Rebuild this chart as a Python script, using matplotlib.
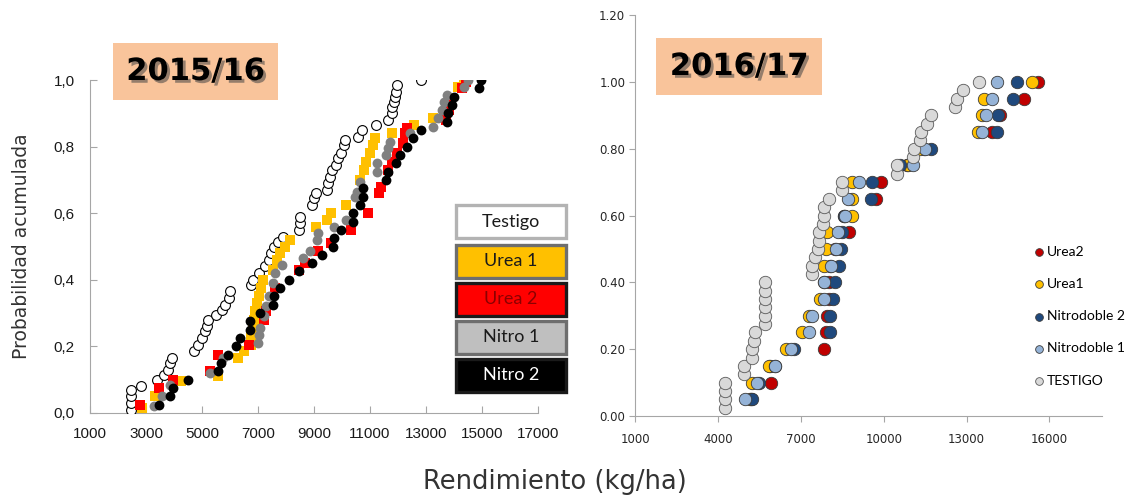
import matplotlib.pyplot as plt
from matplotlib import patheffects
from matplotlib.patches import Rectangle

# ---- 2015/16: cumulative probability vs yield ----
testigo_15_x = [2480, 2480, 2480, 2480, 2810, 3380, 3650, 3780, 3870, 3940,
                4730, 4860, 5010, 5100, 5170, 5230, 5500, 5700, 5830, 5960,
                5990, 6750, 6820, 7020, 7260, 7410, 7480, 7570, 7710, 7880,
                8450, 8500, 8500, 8940, 9000, 9070, 9470, 9500, 9570, 9660,
                9800, 9860, 9950, 10060, 10120, 10560, 10720, 11220, 11650, 11780,
                11800, 11850, 11910, 11940, 11980, 12810]
testigo_15_y = [0.01, 0.03, 0.05, 0.07, 0.08, 0.10, 0.115, 0.13, 0.15, 0.165,
                0.185, 0.205, 0.225, 0.245, 0.262, 0.28, 0.295, 0.31, 0.325, 0.345,
                0.365, 0.385, 0.40, 0.42, 0.44, 0.46, 0.48, 0.50, 0.515, 0.53,
                0.55, 0.57, 0.59, 0.625, 0.645, 0.66, 0.67, 0.69, 0.71, 0.73,
                0.745, 0.765, 0.78, 0.805, 0.82, 0.83, 0.85, 0.865, 0.88, 0.90,
                0.92, 0.935, 0.95, 0.965, 0.985, 1.0]

urea1_15_x = [2850, 3310, 3450, 4240, 5560, 6290, 6490, 6750, 6750, 6820,
              6860, 6890, 6950, 7020, 7090, 7180, 7530, 7680, 7800, 7960,
              8150, 9070, 9470, 9600, 10130, 10650, 10790, 10850, 10990, 11120,
              11190, 11780, 12570, 13240, 14160, 14360]
urea1_15_y = [0.015, 0.05, 0.07, 0.095, 0.11, 0.165, 0.185, 0.205, 0.23, 0.255,
              0.28, 0.305, 0.33, 0.35, 0.375, 0.40, 0.43, 0.46, 0.48, 0.50,
              0.52, 0.56, 0.58, 0.60, 0.625, 0.70, 0.73, 0.755, 0.78, 0.805,
              0.825, 0.84, 0.865, 0.885, 0.98, 1.0]

urea2_15_x = [2790, 3450, 3980, 5270, 5560, 6690, 7220, 7280, 7610, 8470,
              8670, 9140, 9600, 10330, 10920, 11320, 11400, 11650, 11780, 11980,
              12180, 12240, 12310, 13700, 13830, 13900, 14300, 14430]
urea2_15_y = [0.025, 0.075, 0.10, 0.125, 0.175, 0.205, 0.28, 0.305, 0.375, 0.43,
              0.45, 0.485, 0.51, 0.55, 0.60, 0.66, 0.68, 0.73, 0.755, 0.78,
              0.81, 0.84, 0.855, 0.88, 0.91, 0.935, 0.975, 0.995]

nitro1_15_x = [3290, 3580, 3840, 5270, 5760, 6990, 7020, 7080, 7220, 7280,
               7410, 7520, 7610, 7840, 8600, 8870, 9110, 9140, 9730, 10130,
               10460, 10520, 10660, 11250, 11250, 11580, 11650, 11720, 12440, 13240,
               13430, 13570, 13630, 13760, 14360, 14490]
nitro1_15_y = [0.02, 0.05, 0.085, 0.12, 0.165, 0.21, 0.235, 0.255, 0.29, 0.32,
               0.35, 0.39, 0.42, 0.445, 0.465, 0.485, 0.52, 0.54, 0.56, 0.58,
               0.65, 0.665, 0.695, 0.725, 0.75, 0.775, 0.795, 0.815, 0.84, 0.86,
               0.885, 0.91, 0.935, 0.955, 0.98, 1.0]

nitro2_15_x = [3470, 3870, 3980, 4500, 5560, 5670, 5930, 6220, 6360, 6730,
               6730, 7080, 7550, 7570, 7790, 8120, 8470, 8940, 9290, 9680,
               9700, 9950, 10380, 10380, 10660, 10750, 10750, 11580, 11650, 11940,
               12070, 12310, 12550, 12810, 13740, 13790, 13920, 14000, 14890, 14980]
nitro2_15_y = [0.025, 0.05, 0.075, 0.10, 0.125, 0.15, 0.175, 0.20, 0.225, 0.25,
               0.275, 0.30, 0.325, 0.35, 0.375, 0.40, 0.425, 0.45, 0.475, 0.50,
               0.525, 0.55, 0.575, 0.60, 0.625, 0.65, 0.675, 0.70, 0.725, 0.75,
               0.775, 0.80, 0.825, 0.85, 0.875, 0.90, 0.925, 0.95, 0.975, 1.0]

# ---- 2016/17 ----
prob_20 = [0.05, 0.10, 0.15, 0.20, 0.25, 0.30, 0.35, 0.40, 0.45, 0.50,
           0.55, 0.60, 0.65, 0.70, 0.75, 0.80, 0.85, 0.90, 0.95, 1.00]
urea2_16 = [5200, 5918, 5900, 7824, 7910, 7947, 8008, 8033, 8070, 8254,
            8746, 8561, 9705, 9890, 10836, 11451, 13910, 14217, 15078, 15570]
urea1_16 = [5150, 5242, 5832, 6471, 7049, 7295, 7701, 7824, 7848, 7910,
            7947, 8869, 8869, 8869, 10897, 11328, 13418, 13541, 13639, 15361]
nitrod2_16 = [5242, 5488, 6066, 6754, 8070, 8070, 8156, 8254, 8377, 8439,
              8475, 8561, 9545, 9582, 10590, 11697, 14094, 14131, 14672, 14832]
nitrod1_16 = [4971, 5402, 6066, 6631, 7295, 7393, 7824, 7824, 8107, 8279,
              8340, 8598, 8721, 9115, 11057, 11512, 13541, 13689, 13934, 14094]
testigo_16_x = [4258, 4258, 4258, 4258, 4934, 4934, 5217, 5217, 5303, 5340,
                5710, 5710, 5710, 5710, 5710, 5710, 7418, 7418, 7516, 7640,
                7676, 7676, 7787, 7823, 7823, 8033, 8475, 8500, 10467, 10492,
                11057, 11082, 11303, 11352, 11549, 11697, 12582, 12656, 12865, 13443]
testigo_16_y = [0.025, 0.05, 0.075, 0.10, 0.125, 0.15, 0.175, 0.20, 0.225, 0.25,
                0.275, 0.30, 0.325, 0.35, 0.375, 0.40, 0.425, 0.45, 0.475, 0.50,
                0.525, 0.55, 0.575, 0.60, 0.625, 0.65, 0.675, 0.70, 0.725, 0.75,
                0.775, 0.80, 0.825, 0.85, 0.875, 0.90, 0.925, 0.95, 0.975, 1.00]

x_ticks_15 = [1000, 3000, 5000, 7000, 9000, 11000, 13000, 15000, 17000]
y_ticks_15 = [0.0, 0.2, 0.4, 0.6, 0.8, 1.0]
y_labels_15 = ['0,0', '0,2', '0,4', '0,6', '0,8', '1,0']
x_ticks_16 = [1000, 4000, 7000, 10000, 13000, 16000]
y_ticks_16 = [0.0, 0.2, 0.4, 0.6, 0.8, 1.0, 1.2]

legend_15 = ['Testigo', 'Urea 1', 'Urea 2', 'Nitro 1', 'Nitro 2']

W, H = 1128, 497
fig = plt.figure(figsize=(W / 100, H / 100), dpi=100)


def px_rect(x0, y0, x1, y1):
    # pixel box measured from top-left -> figure fraction [l, b, w, h]
    return [x0 / W, 1 - y1 / H, (x1 - x0) / W, (y1 - y0) / H]


axis_grey = '#a6a6a6'

# left panel
ax1 = fig.add_axes(px_rect(90, 80, 538, 413))
sq = 50
ax1.scatter(testigo_15_x, testigo_15_y, s=sq, marker='o', facecolor='white',
            edgecolor='black', linewidth=0.8, zorder=3)
ax1.scatter(urea1_15_x, urea1_15_y, s=sq, marker='s', color='#ffc000', linewidth=0, zorder=3)
ax1.scatter(urea2_15_x, urea2_15_y, s=sq, marker='s', color='#ff0000', linewidth=0, zorder=3)
ax1.scatter(nitro1_15_x, nitro1_15_y, s=sq, marker='o', color='#808080', linewidth=0, zorder=3)
ax1.scatter(nitro2_15_x, nitro2_15_y, s=sq, marker='o', color='black', linewidth=0, zorder=3)
ax1.set_xlim(1000, 17000)
ax1.set_ylim(0, 1.0)
ax1.set_xticks(x_ticks_15)
ax1.set_yticks(y_ticks_15)
ax1.set_yticklabels(y_labels_15)
for sp in ['top', 'right']:
    ax1.spines[sp].set_visible(False)
for sp in ['left', 'bottom']:
    ax1.spines[sp].set_color(axis_grey)
ax1.tick_params(direction='in', length=5, color=axis_grey, labelsize=11,
                labelcolor='#1a1a1a')
ax1.tick_params(axis='x', pad=10)
ax1.tick_params(axis='y', pad=11)
for lab in ax1.get_xticklabels() + ax1.get_yticklabels():
    lab.set_fontfamily('Liberation Sans')
ax1.set_ylabel('Probabilidad acumulada', fontsize=13.5, color='#333333')
ax1.yaxis.set_label_coords(-0.132, 0.5)

# right panel
ax2 = fig.add_axes(px_rect(635, 15, 1102, 416))
sr = 80
ax2.scatter(urea2_16, prob_20, s=sr, color='#c00000', edgecolor='#3a3a3a', linewidth=0.6, zorder=3,
            label='Urea2')
ax2.scatter(urea1_16, prob_20, s=sr, color='#ffc000', edgecolor='#3a3a3a', linewidth=0.6, zorder=3,
            label='Urea1')
ax2.scatter(nitrod2_16, prob_20, s=sr, color='#1f497d', edgecolor='#3a3a3a', linewidth=0.6, zorder=3,
            label='Nitrodoble 2')
ax2.scatter(nitrod1_16, prob_20, s=sr, color='#95b3d7', edgecolor='#3a3a3a', linewidth=0.6, zorder=3,
            label='Nitrodoble 1')
ax2.scatter(testigo_16_x, testigo_16_y, s=sr, color='#d9d9d9', edgecolor='#595959', linewidth=0.6,
            zorder=3, label='TESTIGO')
ax2.set_xlim(1000, 17900)
ax2.set_ylim(0, 1.2)
ax2.set_xticks(x_ticks_16)
ax2.set_yticks(y_ticks_16)
ax2.yaxis.set_major_formatter('{x:.2f}')
for sp in ['top', 'right']:
    ax2.spines[sp].set_visible(False)
for sp in ['left', 'bottom']:
    ax2.spines[sp].set_color(axis_grey)
ax2.tick_params(direction='out', length=4, color=axis_grey, labelsize=8.5,
                labelcolor='#262626')
ax2.tick_params(axis='x', pad=8)
ax2.tick_params(axis='y', pad=3)

fig.legend(*ax2.get_legend_handles_labels(), loc='upper left',
           bbox_to_anchor=(1031 / W, 1 - 246 / H), frameon=False,
           markerscale=0.62, handletextpad=0.05, handlelength=1.1,
           labelspacing=1.45, borderaxespad=0, borderpad=0,
           prop={'family': 'Lato', 'size': 10})

# season titles
shadow = [patheffects.withSimplePatchShadow(offset=(2, -2), shadow_rgbFace='#444444', alpha=0.55)]
for (x0, y0, x1, y1), label in [((113, 43, 278, 100), '2015/16'),
                                ((656, 38, 822, 95), '2016/17')]:
    fig.add_artist(Rectangle((x0 / W, 1 - y1 / H), (x1 - x0) / W, (y1 - y0) / H,
                             transform=fig.transFigure, facecolor='#f9c49b', edgecolor='none'))
    fig.text((x0 + x1) / 2 / W, 1 - (y0 + y1) / 2 / H, label, ha='center', va='center',
             fontsize=22, fontweight='bold', color='black', path_effects=shadow)

# legend boxes for 2015/16
box_faces = ['white', '#ffc000', '#ff0000', '#bfbfbf', 'black']
box_edges = ['#b3b3b3', '#6e6e6e', '#1a1a1a', '#6e6e6e', '#1a1a1a']
box_text = ['#1a1a1a', '#1a1a1a', '#8b0000', '#1a1a1a', 'white']
box_tops = [205, 245, 283, 321, 359]
for lab, fc, ec, tc, top in zip(legend_15, box_faces, box_edges, box_text, box_tops):
    x0, x1, y0, y1 = 456, 566, top, top + 33
    fig.add_artist(Rectangle((x0 / W, 1 - y1 / H), (x1 - x0) / W, (y1 - y0) / H,
                             transform=fig.transFigure, facecolor=fc, edgecolor=ec,
                             linewidth=2.4))
    fig.text((x0 + x1) / 2 / W, 1 - (y0 + y1) / 2 / H, lab, ha='center', va='center',
             fontsize=13, family='Lato', color=tc)

fig.text(555 / W, 1 - 482 / H, 'Rendimiento (kg/ha)', ha='center', va='center',
         fontsize=18.5, color='#333333')

fig.savefig('out.png', dpi=100)
